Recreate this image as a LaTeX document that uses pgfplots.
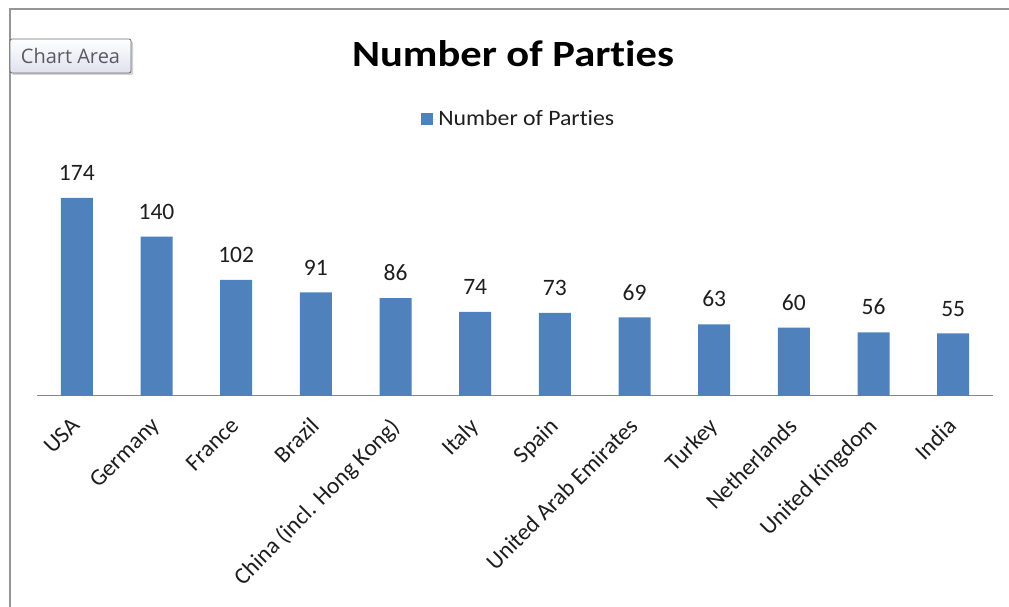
\documentclass[border=0pt]{standalone}
\usepackage{pgfplots}
\pgfplotsset{compat=1.18}
\usepackage{fontspec}
\setmainfont{Carlito}[Ligatures=NoCommon]
\newfontfamily\btnfont{Open Sans}
\newfontfamily\titlefont{Carlito}[FakeStretch=1.15, Ligatures=NoCommon]
\newfontfamily\legfont{Carlito}[FakeStretch=1.08, Ligatures=NoCommon]
\usetikzlibrary{shadows}
\definecolor{barblue}{RGB}{79,129,189}
\definecolor{framegray}{RGB}{150,150,150}
\definecolor{axisgray}{RGB}{134,134,134}
\definecolor{labelcol}{RGB}{30,30,30}
\definecolor{btntext}{RGB}{90,90,100}
\definecolor{btndraw}{RGB}{110,110,110}
\definecolor{btnbot}{RGB}{222,226,238}
\begin{document}
\begin{tikzpicture}
\path[use as bounding box] (0,0) rectangle (1009pt,607pt);
\clip (0,0) rectangle (1009pt,607pt);
\fill[white] (0,0) rectangle (1009pt,607pt);
\draw[framegray, line width=2pt] (10pt,-5pt) -- (10pt,598pt) -- (1015pt,598pt);
\begin{axis}[
  at={(37pt,211pt)}, anchor=south west,
  scale only axis, width=956pt, height=227.6pt,
  xmin=-0.5, xmax=11.5, ymin=0, ymax=200,
  axis y line=none,
  axis x line*=bottom,
  x axis line style={axisgray, line width=1pt, -},
  xtick={0,...,11},
  xticklabels={USA,Germany,France,Brazil,China (incl. Hong Kong),Italy,Spain,United Arab Emirates,Turkey,Netherlands,United Kingdom,India},
  major tick length=0pt,
  xticklabel style={xshift=-7pt, yshift=-20pt, rotate=45, anchor=north east, inner sep=0pt, font=\fontsize{23.5pt}{25pt}\selectfont, text=labelcol},
  /pgf/number format/assume math mode=true,
  ybar, bar width=32pt,
  nodes near coords,
  every node near coord/.append style={font=\fontsize{23.5pt}{25pt}\selectfont, text=labelcol, inner sep=0pt, yshift=17pt, anchor=south},
  legend style={at={(0.504,1.217)}, anchor=center, draw=none, fill=none, font=\legfont\fontsize{22pt}{24pt}\selectfont, text=labelcol},
  legend image code/.code={\fill[barblue] (0pt,-6pt) rectangle (12pt,6pt); \path (0pt,0pt) -- (15pt,0pt);},
  clip=false,
]
\addplot[fill=barblue, draw=none] coordinates {
(0,174) (1,140) (2,102) (3,91) (4,86) (5,74) (6,73) (7,69) (8,63) (9,60) (10,56) (11,55)
};
\addlegendentry{Number of Parties}
\end{axis}
\node[font=\titlefont\bfseries\fontsize{37pt}{39pt}\selectfont, text=black] at (513pt,553pt) {Number of Parties};
\node[font=\btnfont\fontsize{20pt}{22pt}\selectfont, text=btntext,
  draw=btndraw, rounded corners=2pt, line width=0.8pt,
  top color=white, bottom color=btnbot,
  drop shadow={shadow xshift=2pt, shadow yshift=-2pt, opacity=0.35},
  minimum width=121pt, minimum height=34pt, inner sep=0pt] at (70.5pt,551pt) {Chart Area};
\end{tikzpicture}
\end{document}
